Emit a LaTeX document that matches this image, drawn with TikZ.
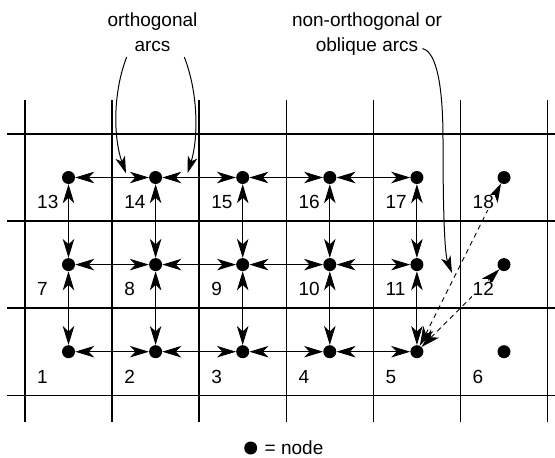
\documentclass[tikz,border=0pt]{standalone}
\usepackage{fontspec}
\setmainfont{Liberation Sans}
\usetikzlibrary{arrows.meta}
\begin{document}
\begin{tikzpicture}[x=1pt,y=-1pt,
  font=\fontsize{19}{23}\selectfont,
  gridline/.style={line width=1.5pt},
  dot/.style={circle,fill=black,inner sep=0pt,minimum size=13pt},
  arc/.style={line width=0.9pt,{Stealth[length=19pt,width=11.5pt,inset=5.5pt]}-{Stealth[length=19pt,width=11.5pt,inset=5.5pt]}},
  oblique/.style={arc,dash pattern=on 5pt off 4pt},
  callout/.style={line width=1pt,-{Stealth[length=17pt,width=10pt,inset=4.5pt]}},
  num/.style={anchor=base west,inner sep=1pt,fill=white},
  lbl/.style={align=center,font=\fontsize{19}{24.8}\selectfont,inner sep=0pt}
]
\useasboundingbox (0,0) rectangle (555,458);
% grid
\foreach \i in {0,...,6} \draw[gridline] ({25+87.1*\i},100) -- ({25+87.1*\i},421.5);
\foreach \j in {0,...,3} \draw[gridline] (7,{134+87.1*\j}) -- (555,{134+87.1*\j});
% nodes
\foreach \c in {0,...,5}{
  \foreach \r/\b in {0/13,1/7,2/1}{
    \pgfmathtruncatemacro{\k}{\b+\c}
    \node[dot] (n\k) at ({68.5+87.1*\c},{177.5+87.1*\r}) {};
  }
}
% orthogonal arcs
\foreach \a/\b in {1/2,2/3,3/4,4/5,7/8,8/9,9/10,10/11,13/14,14/15,15/16,16/17,1/7,7/13,2/8,8/14,3/9,9/15,4/10,10/16,5/11,11/17}
  \draw[arc] (n\a) -- (n\b);
% oblique arcs
\draw[oblique] (n5) -- (n18);
\draw[oblique] (n5) -- (n12);
% cell numbers
\foreach \c in {0,...,5}{
  \foreach \r/\b in {0/13,1/7,2/1}{
    \pgfmathtruncatemacro{\k}{\b+\c}
    \node[num] (t\k) at ({25+87.1*\c+11},{208.8+87.1*\r}) {\k};
  }
}
% callouts
\node[lbl,anchor=base] (orth) at (152.5,51.7) {orthogonal\\arcs};
\coordinate (o1s) at (126.7,57);
\coordinate (o1e) at (126,173.3);
\coordinate (o2s) at (184.3,57);
\coordinate (o2e) at (187.5,173.3);
\draw[callout] (o1s) .. controls (112,95) and (114,140) .. (o1e);
\draw[callout] (o2s) .. controls (199,95) and (198,140) .. (o2e);
\node[lbl,anchor=base] (obl) at (367,51.7) {non-orthogonal or\\oblique arcs};
\coordinate (o3s) at (422.5,48.5);
\coordinate (o3m) at (443,140);
\coordinate (o3e) at (452,273);
\draw[callout] (o3s) .. controls (433,51) and (443,72) .. (o3m) .. controls (443,220) and (445,255) .. (o3e);
% legend
\node[dot] (legdot) at (250.7,448) {};
\node[anchor=base west,inner sep=0pt] (legtext) at (264.5,454.5) {= node};
\end{tikzpicture}
\end{document}
